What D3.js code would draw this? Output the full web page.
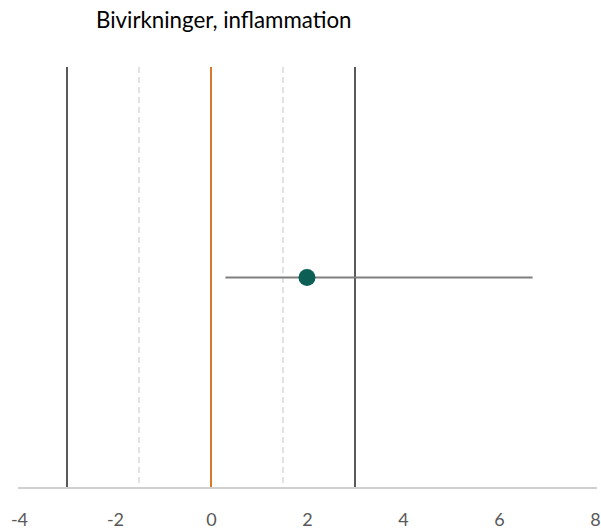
<!DOCTYPE html>
<html>
<head>
<meta charset="utf-8">
<script src="https://cdn.jsdelivr.net/npm/d3@7"></script>
<style>
  html, body { margin: 0; padding: 0; background: #fff; }
  text { font-family: Lato, "Open Sans", sans-serif; }
</style>
</head>
<body>
<svg id="chart" width="601" height="529"></svg>
<script>
// Forest-style plot: one effect estimate with its confidence interval
const title = "Bivirkninger, inflammation";
const tickValues = [-4, -2, 0, 2, 4, 6, 8];
const domain = [-4, 8];
const estimates = [2.0];
const lowerBounds = [0.3];
const upperBounds = [6.7];
const rowY = [0.5];                 // vertical position of the row (0 = bottom, 1 = top)
const solidRefs = [-3, 3];          // outer reference lines
const dashedRefs = [-1.5, 1.5];     // inner dashed reference lines
const zeroRef = [0];                // line of no effect

const svg = d3.select("#chart");
const x = d3.scaleLinear().domain(domain).range([19, 595]);
const y = d3.scaleLinear().domain([0, 1]).range([488, 67]);

svg.append("text")
  .attr("x", 96).attr("y", 28)
  .attr("font-size", 22.3)
  .attr("fill", "#000")
  .text(title);

// reference lines
svg.selectAll(".ref-dash").data(dashedRefs).join("line")
  .attr("x1", d => x(d)).attr("x2", d => x(d))
  .attr("y1", y(1)).attr("y2", y(0))
  .attr("stroke", "#d9d9d9").attr("stroke-width", 1.5)
  .attr("stroke-dasharray", "6,4");

svg.selectAll(".ref-solid").data(solidRefs).join("line")
  .attr("x1", d => x(d)).attr("x2", d => x(d))
  .attr("y1", y(1)).attr("y2", y(0))
  .attr("stroke", "#595959").attr("stroke-width", 2);

svg.selectAll(".ref-zero").data(zeroRef).join("line")
  .attr("x1", d => x(d)).attr("x2", d => x(d))
  .attr("y1", y(1)).attr("y2", y(0))
  .attr("stroke", "#d9782a").attr("stroke-width", 2);

// x axis (hyphen-minus labels)
const axis = svg.append("g")
  .attr("transform", `translate(0,${y(0)})`)
  .call(d3.axisBottom(x).tickValues(tickValues).tickSize(0).tickFormat(d => String(d)));
axis.select(".domain").attr("stroke", "#d0d0d0").attr("stroke-width", 2)
  .attr("d", `M${x(domain[0]) - 1},0H${x(domain[1]) + 2}`);
axis.selectAll("text")
  .attr("y", 37.5).attr("dy", 0)
  .attr("font-size", 18)
  .attr("fill", "#595959")
  .attr("font-family", "Lato, 'Open Sans', sans-serif");

// confidence interval and estimate
const rows = estimates.map((e, i) => ({ est: e, lo: lowerBounds[i], hi: upperBounds[i], pos: rowY[i] }));
svg.selectAll(".ci").data(rows).join("line")
  .attr("x1", d => x(d.lo)).attr("x2", d => x(d.hi))
  .attr("y1", d => y(d.pos)).attr("y2", d => y(d.pos))
  .attr("stroke", "#7f7f7f").attr("stroke-width", 2);

svg.selectAll(".est").data(rows).join("circle")
  .attr("cx", d => x(d.est)).attr("cy", d => y(d.pos))
  .attr("r", 8.5)
  .attr("fill", "#0c5f55");
</script>
</body>
</html>
